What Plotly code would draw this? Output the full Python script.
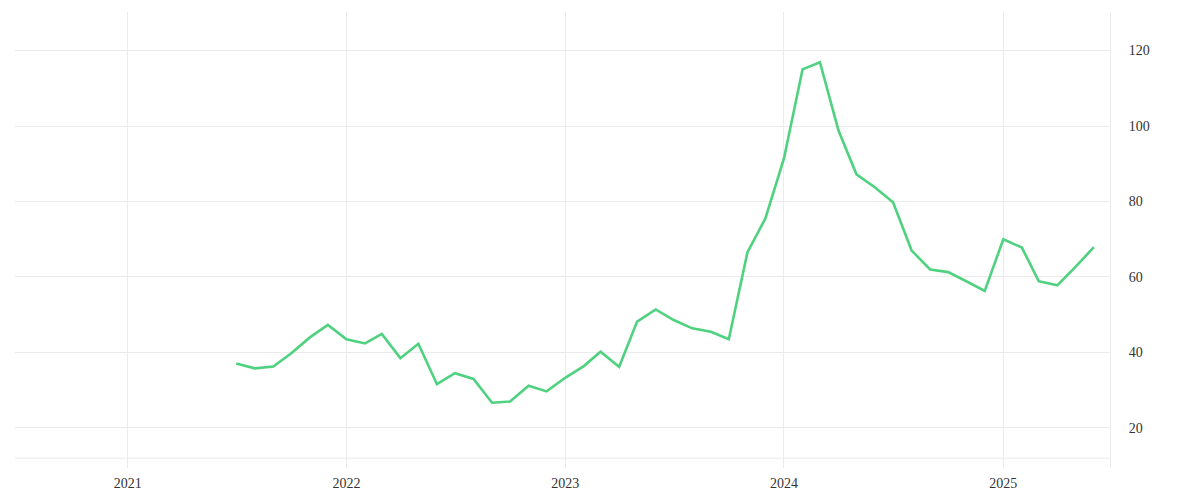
import plotly.graph_objects as go
import pandas as pd

dates = pd.date_range("2021-07-01", "2025-06-01", freq="MS").strftime("%Y-%m-%d").tolist()
values = [
    37.1, 35.8, 36.3, 39.8, 44.0, 47.3,
    43.5, 42.4, 44.9, 38.5, 42.3, 31.6, 34.5, 33.0, 26.7, 27.0, 31.2, 29.7,
    33.3, 36.4, 40.2, 36.2, 48.2, 51.4, 48.6, 46.4, 45.5, 43.5, 66.5, 75.5,
    91.4, 115.0, 116.9, 98.8, 87.2, 83.7, 79.8, 67.0, 62.0, 61.3, 58.8, 56.3,
    70.0, 67.8, 58.9, 57.8, 62.6, 67.9,
]
year_ticks = ["2021-01-01", "2022-01-01", "2023-01-01", "2024-01-01", "2025-01-01"]
year_labels = ["2021", "2022", "2023", "2024", "2025"]
y_ticks = [20, 40, 60, 80, 100, 120]

grid = "#ebebeb"
font = dict(family="Liberation Serif, DejaVu Serif, serif", size=14, color="#333333")

fig = go.Figure()
fig.add_trace(go.Scatter(
    x=dates, y=values, mode="lines",
    line=dict(color="#4fd27f", width=2.6),
    hoverinfo="x+y", showlegend=False,
))

fig.update_layout(
    width=1200, height=500,
    margin=dict(l=7, r=98, t=4, b=40),
    paper_bgcolor="white", plot_bgcolor="white",
    font=font,
    xaxis=dict(
        type="date",
        range=["2020-06-27", "2025-06-28"],
        tickvals=year_ticks, ticktext=year_labels,
        showgrid=True, gridcolor=grid, gridwidth=1,
        zeroline=False, showline=False, ticks="",
        ticklabelstandoff=5,
    ),
    yaxis=dict(
        side="right",
        range=[9.4, 130.2],
        tickvals=y_ticks,
        showgrid=True, gridcolor=grid, gridwidth=1,
        zeroline=False, showline=True, linecolor=grid, linewidth=1,
        ticks="", ticklabelstandoff=15,
    ),
)
fig.add_shape(type="line", xref="paper", yref="y", x0=0, x1=1, y0=12, y1=12,
              line=dict(color=grid, width=1), layer="below")

fig.write_html("out.html")
